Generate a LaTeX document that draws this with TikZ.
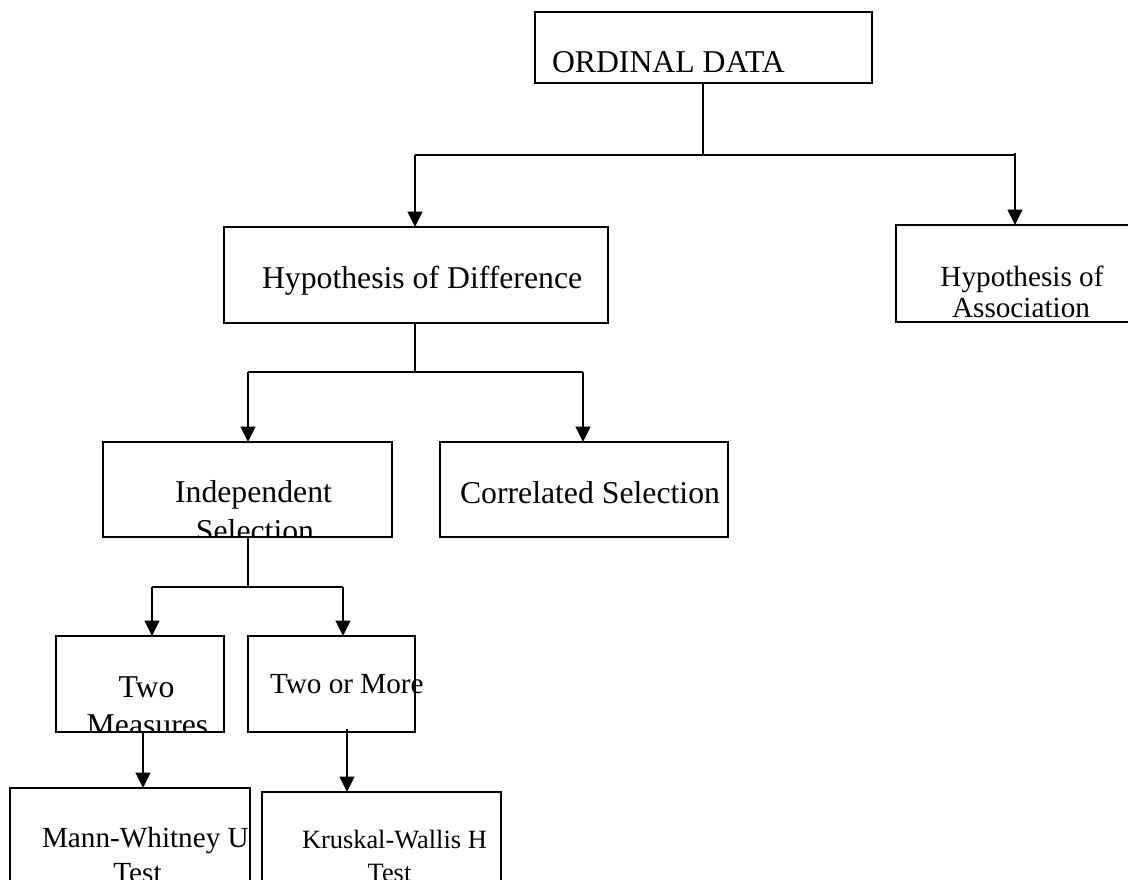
\documentclass[tikz,border=0pt]{standalone}
\usepackage{fontspec}
\setmainfont{Liberation Serif}
\usetikzlibrary{arrows.meta}
\begin{document}
\begin{tikzpicture}[x=0.75pt,y=-0.75pt,
  box/.style={draw,line width=1.2pt,rectangle,inner sep=0pt,outer sep=0pt},
  conn/.style={line width=1.2pt},
  arr/.style={conn,-{Triangle[length=11.6pt,width=11.25pt]}},
  txt/.style={inner sep=0pt,outer sep=0pt},
  big/.style={font=\fontsize{23.8pt}{28pt}\selectfont},
  mid/.style={font=\fontsize{21.9pt}{26pt}\selectfont},
  small/.style={font=\fontsize{19.8pt}{24pt}\selectfont}]
\useasboundingbox (0,0) rectangle (1128,880);
\clip (0,0) rectangle (1128,880);
\fill[white] (0,0) rectangle (1128,880);

% boxes
\node[box,minimum width=252.75pt,minimum height=53.25pt] (ord) at (703.5,47.5) {};
\node[box,minimum width=288pt,minimum height=72pt] (hd) at (416,275) {};
\node[box,minimum width=179.25pt,minimum height=72.75pt] (ha) at (1015.5,273.5) {};
\node[box,minimum width=216.75pt,minimum height=71.25pt] (is) at (247.5,489.5) {};
\node[box,minimum width=216pt,minimum height=71.25pt] (cs) at (584,489.5) {};
\node[box,minimum width=126pt,minimum height=72pt] (tm) at (140,684) {};
\node[box,minimum width=125.25pt,minimum height=72pt] (tom) at (331.5,684) {};
\node[box,minimum width=180pt,minimum height=76.5pt] (mw) at (130,839) {};
\node[box,minimum width=179.25pt,minimum height=73.5pt] (kw) at (381.5,841) {};

% texts
\node[txt,big,anchor=base west] (tord) at (552,73) {ORDINAL DATA};
\node[txt,big,anchor=base west] (thd) at (262,289) {Hypothesis of Difference};
\begin{scope}
\clip (850,225) rectangle (1128,322);
\node[txt,mid,anchor=base] (tha1) at (1022,287) {Hypothesis of};
\node[txt,mid,anchor=base] (tha2) at (1021,318) {Association};
\end{scope}
\begin{scope}
\clip (60,442) rectangle (430,537);
\node[txt,big,anchor=base] (tis1) at (253.5,502) {Independent};
\node[txt,big,anchor=base] (tis2) at (255,541) {Selection};
\end{scope}
\node[txt,big,anchor=base west] (tcs) at (460,503) {Correlated Selection};
\begin{scope}
\clip (20,636) rectangle (240,732);
\node[txt,big,anchor=base] (ttm1) at (146.5,697) {Two};
\node[txt,big,anchor=base] (ttm2) at (147.5,735) {Measures};
\end{scope}
\node[txt,mid,anchor=base west] (ttom) at (270,693) {Two or More};
\node[txt,mid,anchor=base west] (tmw1) at (42,847) {Mann-Whitney U};
\node[txt,mid,anchor=base] (tmw2) at (137.5,882) {Test};
\node[txt,small,anchor=base west] (tkw1) at (302,848) {Kruskal-Wallis H};
\node[txt,small,anchor=base] (tkw2) at (389.5,881) {Test};

% connectors
\coordinate (j1) at (703,155);
\coordinate (jl) at (415,155);
\coordinate (jr) at (1015,155);
\coordinate (jrt) at (1015,153);
\draw[conn] (j1 |- ord.south) -- (j1);
\draw[conn] (jl) -- (jr);
\draw[arr] (jl) -- (jl |- hd.north);
\draw[arr] (jrt) -- (jrt |- ha.north);

\coordinate (j2) at (415,372);
\coordinate (j2l) at (248,372);
\coordinate (j2r) at (583,372);
\draw[conn] (j2 |- hd.south) -- (j2);
\draw[conn] (j2l) -- (j2r);
\draw[arr] (j2l) -- (j2l |- is.north);
\draw[arr] (j2r) -- (j2r |- cs.north);

\coordinate (j3) at (248,587);
\coordinate (j3l) at (152,587);
\coordinate (j3r) at (343,587);
\draw[conn] (j3 |- is.south) -- (j3);
\draw[conn] (j3l) -- (j3r);
\draw[arr] (j3l) -- (j3l |- tm.north);
\draw[arr] (j3r) -- (j3r |- tom.north);

\coordinate (tmout) at (143,732);
\coordinate (tomout) at (347,729);
\draw[arr] (tmout) -- (tmout |- mw.north);
\draw[arr] (tomout) -- (tomout |- kw.north);
\end{tikzpicture}
\end{document}
